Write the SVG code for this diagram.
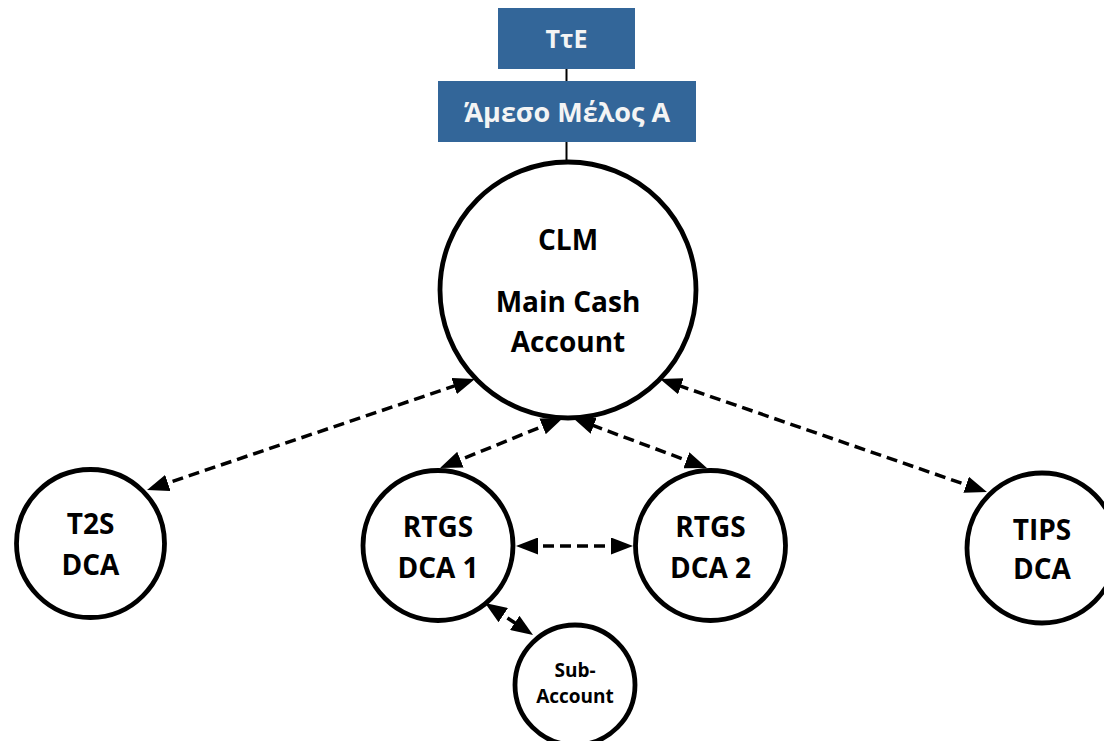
<svg xmlns="http://www.w3.org/2000/svg" width="1104" height="741" viewBox="0 0 1104 741">
<defs>
<style>
.box{fill:#336699;}
.boxtxt{fill:#F4F4F4;font-family:"Open Sans","Liberation Sans",sans-serif;font-weight:bold;text-anchor:middle;}
.node{fill:#FFFFFF;stroke:#000000;stroke-width:4.8;}
.txt{fill:#000000;font-family:"Open Sans","Liberation Sans",sans-serif;font-weight:bold;text-anchor:middle;}
.link{stroke:#000000;stroke-width:2;fill:none;}
.dash{stroke:#000000;stroke-width:3.5;fill:none;stroke-dasharray:11 6;marker-start:url(#ah);marker-end:url(#ah);}
</style>
<marker id="ah" markerUnits="userSpaceOnUse" markerWidth="22" markerHeight="17" viewBox="0 0 22 17" refX="12" refY="8.5" orient="auto-start-reverse">
<path d="M0,0 L22,8.5 L0,17 Z" fill="#000000"/>
</marker>
</defs>
<rect width="1104" height="741" fill="#FFFFFF"/>
<g id="connectors">
<line class="link" x1="566.5" y1="69" x2="566.5" y2="81"/>
<line class="link" x1="566.5" y1="142" x2="566.5" y2="160"/>
<line class="dash" x1="156.5" y1="486.8" x2="465.5" y2="382.2"/>
<line class="dash" x1="449.3" y1="464.2" x2="553.7" y2="421.8"/>
<line class="dash" x1="697.6" y1="464.5" x2="582.4" y2="421.5"/>
<line class="dash" x1="977.5" y1="488.7" x2="669.5" y2="382.3"/>
<line class="dash" x1="526" y1="546" x2="623" y2="546"/>
<line class="dash" x1="493.3" y1="608.5" x2="524.7" y2="629.5"/>
</g>
<g id="tte">
<rect class="box" x="498" y="8" width="137" height="61"/>
<text class="boxtxt" x="566.5" y="48" font-size="25">ΤτΕ</text>
</g>
<g id="member">
<rect class="box" x="438" y="81" width="258" height="61"/>
<text class="boxtxt" x="567" y="122" font-size="27">Άμεσο Μέλος Α</text>
</g>
<g id="clm">
<circle class="node" cx="568" cy="290" r="128"/>
<text class="txt" x="568" y="250" font-size="28">CLM</text>
<text class="txt" x="568" y="312" font-size="28">Main Cash</text>
<text class="txt" x="568" y="352" font-size="28">Account</text>
</g>
<g id="t2s">
<circle class="node" cx="90.5" cy="543.5" r="74"/>
<text class="txt" x="90.5" y="534" font-size="28">T2S</text>
<text class="txt" x="90.5" y="575" font-size="28">DCA</text>
</g>
<g id="rtgs1">
<circle class="node" cx="438" cy="545.5" r="75"/>
<text class="txt" x="438" y="537" font-size="28">RTGS</text>
<text class="txt" x="438" y="578" font-size="28">DCA 1</text>
</g>
<g id="rtgs2">
<circle class="node" cx="710.5" cy="545.5" r="75"/>
<text class="txt" x="710.5" y="537" font-size="28">RTGS</text>
<text class="txt" x="710.5" y="578" font-size="28">DCA 2</text>
</g>
<g id="tips">
<circle class="node" cx="1042" cy="548" r="75"/>
<text class="txt" x="1042" y="540" font-size="28">TIPS</text>
<text class="txt" x="1042" y="579" font-size="28">DCA</text>
</g>
<g id="sub">
<circle class="node" cx="575" cy="685" r="60"/>
<text class="txt" x="575" y="677" font-size="19">Sub-</text>
<text class="txt" x="575" y="703" font-size="19">Account</text>
</g>
</svg>
